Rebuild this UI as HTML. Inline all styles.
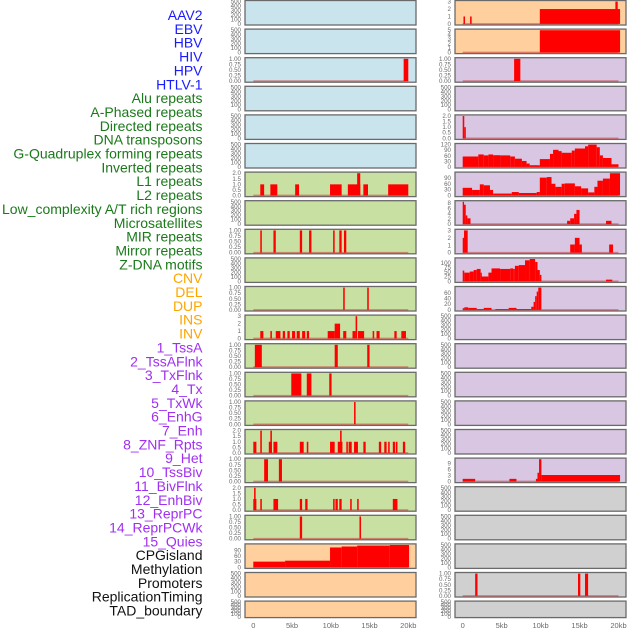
<!DOCTYPE html>
<html><head><meta charset="utf-8"><style>
html,body{margin:0;padding:0;background:#fff;}
svg{display:block;font-family:"Liberation Sans",sans-serif;}
</style></head><body>
<svg id="chart" width="630" height="630" viewBox="0 0 630 630" xmlns="http://www.w3.org/2000/svg"></svg>
<script>
// ---- data ----
const featureLabels = ["AAV2","EBV","HBV","HIV","HPV","HTLV-1","Alu repeats","A-Phased repeats","Directed repeats","DNA transposons","G-Quadruplex forming repeats","Inverted repeats","L1 repeats","L2 repeats","Low_complexity A/T rich regions","Microsatellites","MIR repeats","Mirror repeats","Z-DNA motifs","CNV","DEL","DUP","INS","INV","1_TssA","2_TssAFlnk","3_TxFlnk","4_Tx","5_TxWk","6_EnhG","7_Enh","8_ZNF_Rpts","9_Het","10_TssBiv","11_BivFlnk","12_EnhBiv","13_ReprPC","14_ReprPCWk","15_Quies","CPGisland","Methylation","Promoters","ReplicationTiming","TAD_boundary"];
const labelGroups = [6,13,5,15,5];
const groupColors = ["#1a1aff","#1a7a1a","#ffa500","#a030f0","#111111"];
const xTickLabels = ["0","5kb","10kb","15kb","20kb"];
const xTickValues = [0,5,10,15,20];
const leftBg = ["b","b","b","b","b","b","g","g","g","g","g","g","g","g","g","g","g","g","g","o","o","o"];
const rightBg = ["o","o","p","p","p","p","p","p","p","p","p","p","p","p","p","p","p","k","k","k","k","k"];
const T500=[0,100,200,300,400,500], T1=[0,0.25,0.5,0.75,1], T2=[0,0.5,1,1.5,2];
// segments: [startKb, endKb, value]
const leftSegs = [
 [],[],[[19.4,20,1]],[],[],[],
 [[0.9,1.4,1],[2.2,3.1,1],[5.4,5.9,1],[9.9,11.4,1],[12.2,13.8,1],[13.4,13.8,2],[14.2,14.8,1],[17.4,20,1]],
 [],
 [[0.9,1.1,1],[2.6,2.9,1],[6.0,6.3,1],[7.2,7.5,1],[10.3,10.5,1],[11.1,11.4,1],[11.7,12.0,1]],
 [],
 [[11.6,11.8,1],[14.7,14.9,1]],
 [[0.9,1.3,1],[2.2,2.4,1],[2.9,3.5,1],[3.8,4.1,1],[4.4,4.7,1],[5.0,5.4,1],[5.6,6.0,1],[6.3,6.7,1],[6.9,7.2,1],[9.6,10.5,1],[10.5,11.2,2],[11.6,12.0,1],[12.8,13.2,1],[13.2,13.4,3],[13.5,14.3,1],[15.4,15.6,1],[15.9,16.3,1],[18.2,18.5,1],[19.1,19.7,1]],
 [[0.2,1.1,1],[10.5,10.9,1],[14.7,15.0,1]],
 [[4.9,6.2,1],[6.9,7.5,1],[9.8,10.1,1]],
 [[13.0,13.2,1]],
 [[0,0.4,1],[0.9,1.1,2],[2.0,2.4,1],[2.2,2.4,2],[2.6,3.1,1],[6.0,6.5,1],[6.9,7.1,1],[9.9,10.5,1],[10.9,11.5,1],[11.2,11.4,2],[12.0,12.2,1],[12.3,12.7,1],[13.0,13.5,1],[14.2,14.5,1],[16.2,16.5,1],[16.9,17.2,1],[17.4,17.6,1],[18.0,18.3,1],[18.4,18.6,1],[19.3,19.6,1]],
 [[1.4,1.9,1],[3.3,3.7,1]],
 [[0,0.4,1],[0.1,0.3,2],[0.9,1.1,1],[2.6,3.2,1],[6.0,6.3,1],[6.7,7.0,1],[10.3,10.5,1],[10.6,10.9,1],[11.1,11.4,1],[12.5,12.7,1],[13.4,13.6,1],[18.0,18.6,1]],
 [[6.0,6.3,1],[13.7,13.9,1]],
 [[0,4.1,30],[4.1,9.9,35],[9.9,11.4,105],[11.4,13.4,110],[13.4,17.6,115],[17.6,20.1,118]],
 [],[]
];
const leftTicks = [T500,T500,T1,T500,T500,T500,T2,T500,T1,T500,T1,[0,1,2,3],T1,T1,T1,T2,T1,T2,T1,[0,30,60,90],T500,T500];
const rightSegs = [
 [[0.1,0.3,1],[0.95,1.15,1],[9.9,20.2,2],[19.6,19.9,3]],
 [[9.9,20.2,5]],
 [[6.6,7.4,1]],
 [],
 [[0,0.2,2],[0.2,0.4,1]],
 [[0,2,56],[2,2.7,67],[2.7,3.3,62],[3.3,3.9,67],[3.9,4.8,63],[4.8,6.1,62],[6.1,6.7,56],[6.7,7.6,44],[7.6,8.2,32],[8.2,8.6,18],[8.6,9.9,9],[9.9,11.2,42],[11.2,11.6,70],[11.6,12.3,92],[12.3,12.7,85],[12.7,14,76],[14,14.4,88],[14.4,15.7,99],[15.7,16.1,111],[16.1,17.2,120],[17.2,17.6,106],[17.6,18,62],[18,19.1,48],[19.1,20,14]],
 [[0,1.2,40],[1.2,2.2,29],[2.2,2.7,58],[2.7,3.5,53],[3.5,3.9,29],[3.9,6.3,10],[6.3,7.2,18],[7.2,9.5,13],[9.5,9.9,18],[9.9,10.8,93],[10.8,11.4,96],[11.4,11.9,61],[11.9,12.7,45],[12.7,13.1,61],[13.1,14.4,63],[14.4,15.2,48],[15.2,16.1,37],[16.1,16.9,16],[16.9,17.3,45],[17.3,18,77],[18,18.9,88],[18.9,20.2,116]],
 [[0,0.17,8.5],[0.17,0.39,7.4],[0.39,0.6,3.3],[0.6,1.0,2.2],[13.4,13.8,1.25],[13.8,14.3,2.2],[14.3,14.6,3.9],[14.6,15.0,5.4],[18.4,19.1,1.25]],
 [[0,0.17,2],[0.17,0.64,3],[13.8,14.4,1.1],[14.4,15.0,2],[15.0,15.3,1.1],[18.8,19.3,1.1]],
 [[0,0.2,58],[0.2,0.9,47],[0.9,1.4,53],[1.4,1.8,61],[1.8,2.3,67],[2.3,2.4,47],[2.4,3.3,26],[3.3,3.7,47],[3.7,4.8,70],[4.8,6.1,67],[6.1,6.5,70],[6.5,6.7,67],[6.7,7.2,84],[7.2,8.0,88],[8.0,8.6,114],[8.6,9.3,121],[9.3,9.6,105],[9.6,9.9,61],[9.9,10.1,35],[18.4,19.2,9]],
 [[0,0.2,6],[0.2,0.7,9],[0.7,1.8,7],[1.8,2.7,3],[2.7,3.7,7],[4.2,5.9,3],[5.9,6.9,7],[6.9,8.8,3],[8.8,9.1,11],[9.1,9.3,28],[9.3,9.5,48],[9.5,9.7,64],[9.7,10.1,78]],
 [],[],[],[],[],
 [[0,1.6,1.3],[6.0,6.9,1.3],[9.4,9.6,1.3],[9.6,9.8,4.3],[9.8,10.1,11],[10.1,20.2,3.2]],
 [],[],[],
 [[1.6,1.9,1],[14.8,15.1,1],[15.7,16.1,1]],
 []
];
const rightTicks = [[0,1,2,3],[0,1,2,3,4,5],T1,T500,T2,[0,30,60,90,120],[0,30,60,90],[0,2,4,6,8],[0,1,2,3],[0,25,50,75,100],[0,20,40,60],T500,T500,T500,T500,T500,[0,3,6,9],T500,T500,T500,T1,T500];

// ---- drawing ----
const NS="http://www.w3.org/2000/svg";
const svg=document.getElementById('chart');
function mk(tag,attrs,parent){const e=document.createElementNS(NS,tag);for(const k in attrs)e.setAttribute(k,attrs[k]);(parent||svg).appendChild(e);return e;}
const bgColors={b:"#c9e4ec",g:"#c8e1a3",o:"#ffd09e",p:"#d8c6e2",k:"#d0d0d0"};
function rowTop(i){return i*28.6+0.5;}
function rowH(i){return i===21?16.5:24.5;}
function fmtTick(v,ticks){const hasFrac=ticks.some(t=>t%1!==0);if(!hasFrac)return String(v);const two=ticks.some(t=>Math.round(t*100)%10!==0);return v.toFixed(two?2:1);}

function drawPanel(col,i,segs,ticks,bg){
  const px = col===0?245:455, pw=171;
  const x0 = col===0?253.3:462.7, kbw = col===0?7.75:7.79;
  const xs = kb=>x0+kb*kbw;
  const top=rowTop(i), h=rowH(i);
  let M = segs.length? Math.max(...segs.map(s=>s[2])) : ticks[ticks.length-1];
  const lo=-0.05*M, hi=1.05*M;
  const ys = v=>top+h-(v-lo)/(hi-lo)*h;
  const g=mk('g',{});
  
  
  const r=mk('rect',{x:px,y:top,width:pw,height:h,fill:bgColors[bg],stroke:"#6a6a6a","stroke-width":1.3},g);
  
  
  if(segs.length){
    const bl=mk('line',{x1:xs(0),x2:xs(20),y1:ys(0),y2:ys(0),stroke:"rgba(200,60,60,0.55)","stroke-width":1.6},g);
    
    
  }
  segs.forEach(s=>{
    const yTop=Math.max(ys(s[2]),top);
    const b=mk('rect',{x:xs(s[0]),y:yTop,width:Math.max(xs(s[1])-xs(s[0]),1.2),height:ys(0)-yTop,fill:"#ff0000"},g);
    
    
  });
  ticks.forEach(t=>{
    const tx=mk('text',{x:px-4,y:ys(t)+2,"font-size":"6.2","text-anchor":"end",fill:"#6a6a6a"},g);
    tx.textContent=fmtTick(t,ticks);
    
    
  });
}
for(let i=0;i<22;i++){
  drawPanel(0,i,leftSegs[i],leftTicks[i],leftBg[i]);
  drawPanel(1,i,rightSegs[i],rightTicks[i],rightBg[i]);
}
// x axis labels
[[253.3,7.75],[462.7,7.79]].forEach(([x0,kbw],c)=>{
  xTickValues.forEach((v,j)=>{
    const t=mk('text',{x:x0+v*kbw,y:628,"font-size":"7.5","text-anchor":"middle",fill:"#6a6a6a"});
    t.textContent=xTickLabels[j];
    
    
  });
});
// feature labels
let idx=0;
labelGroups.forEach((n,gi)=>{
  for(let k=0;k<n;k++){
    const t=mk('text',{x:202.5,y:20+idx*13.85,"font-size":"14","text-anchor":"end",fill:groupColors[gi]});
    t.textContent=featureLabels[idx];
    
    
    idx++;
  }
});
</script>
</body></html>
